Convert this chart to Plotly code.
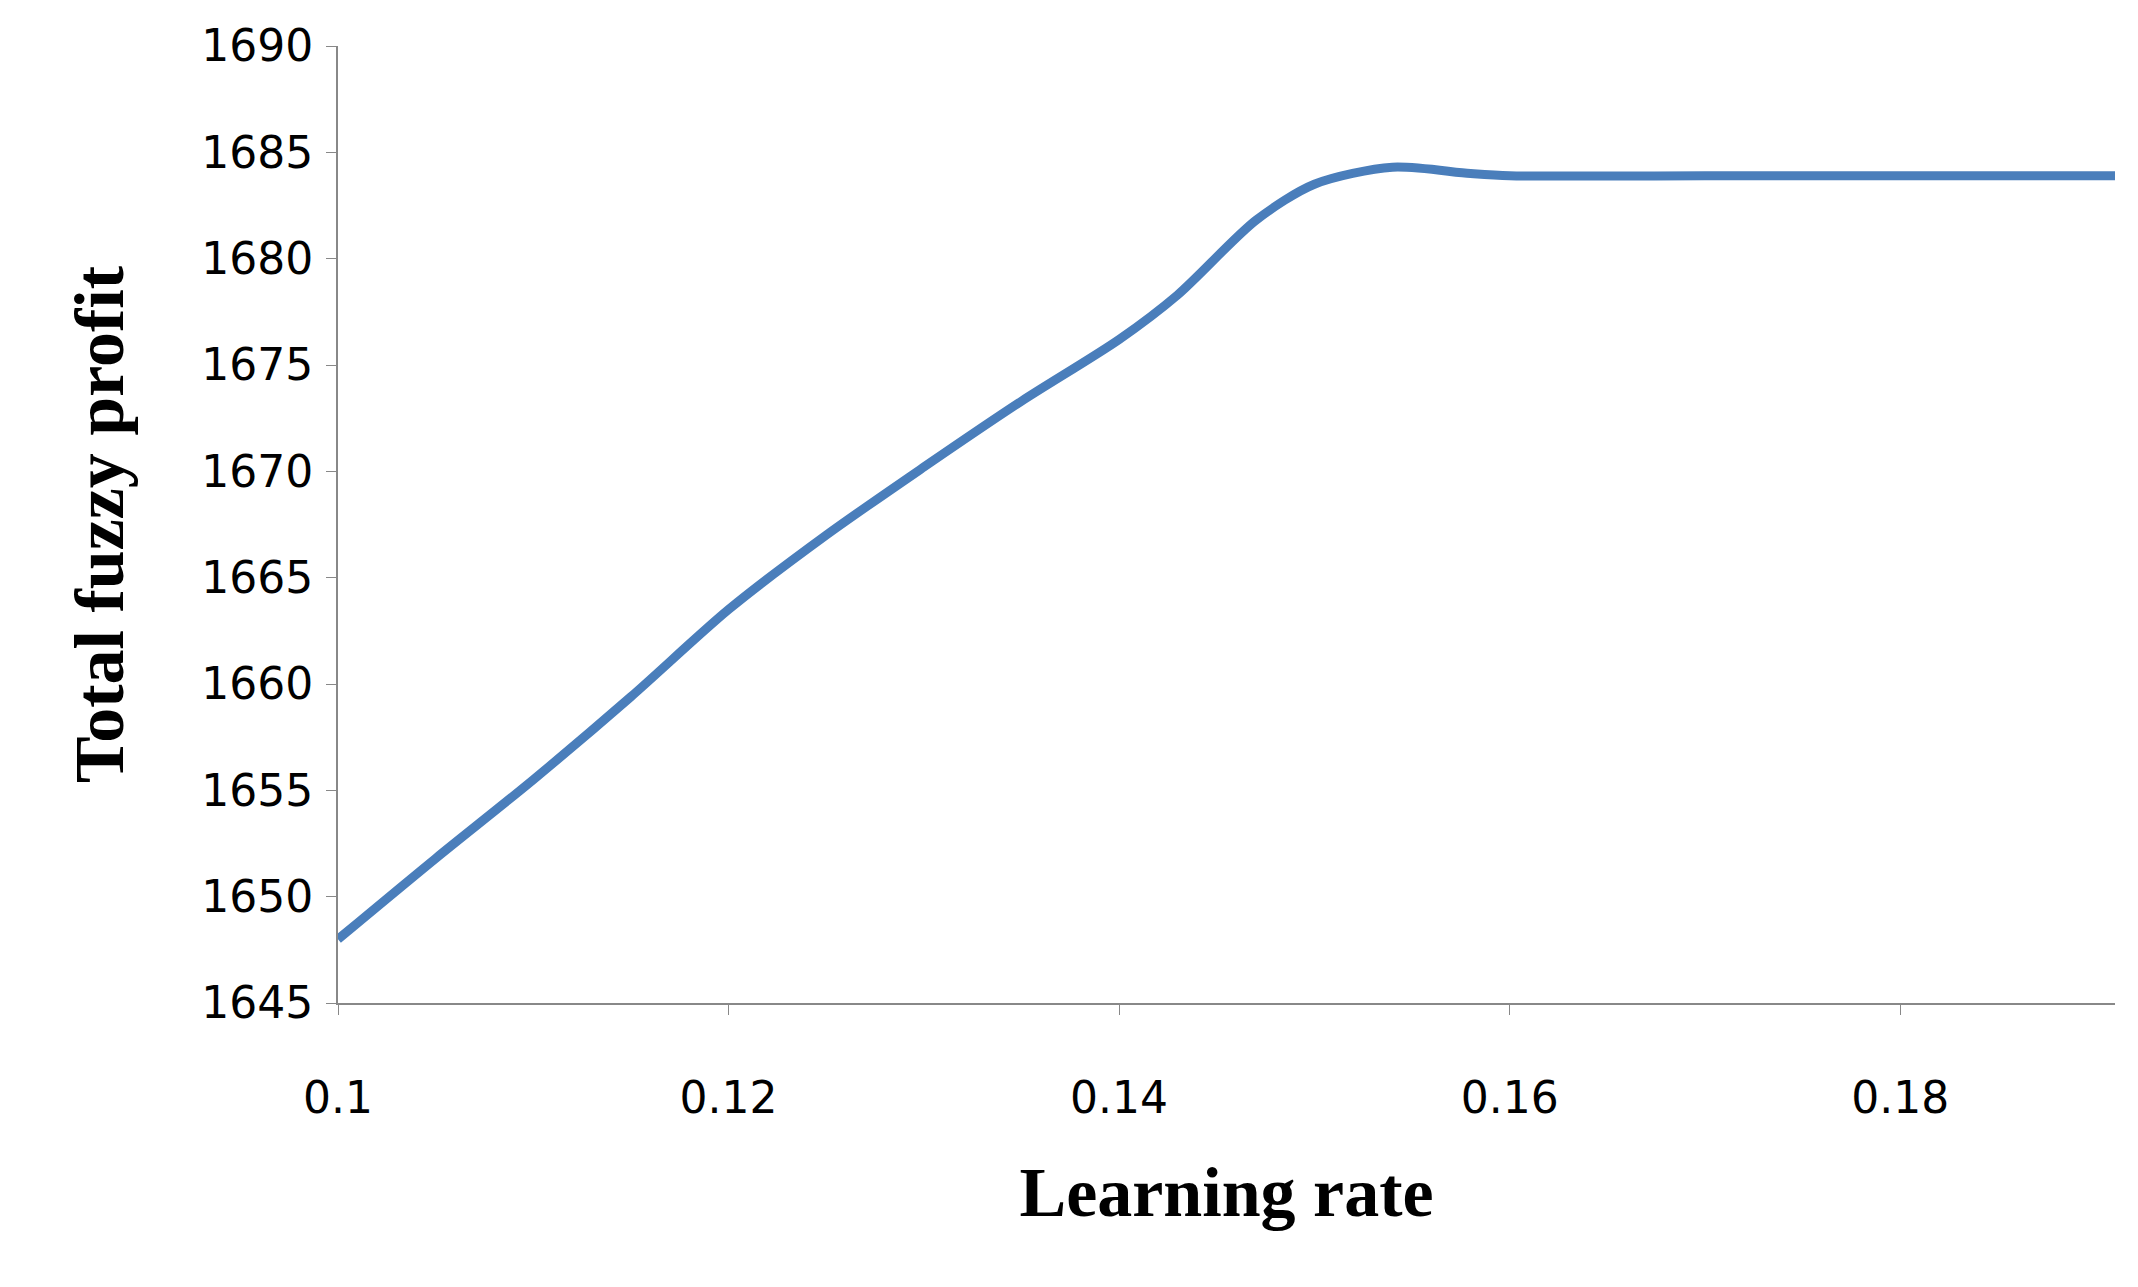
import plotly.graph_objects as go

learning_rate = [0.1, 0.105, 0.11, 0.115, 0.12, 0.125, 0.13, 0.135, 0.14, 0.143, 0.147, 0.15, 0.154, 0.158, 0.16, 0.17, 0.18, 0.191]
profit = [1648.0, 1651.8, 1655.5, 1659.4, 1663.5, 1667.0, 1670.2, 1673.3, 1676.2, 1678.3, 1681.8, 1683.5, 1684.3, 1684.0, 1683.9, 1683.9, 1683.9, 1683.9]
x_ticks = [0.1, 0.12, 0.14, 0.16, 0.18]
x_labels = ["0.1", "0.12", "0.14", "0.16", "0.18"]

fig = go.Figure(go.Scatter(x=learning_rate, y=profit, mode="lines",
                           line=dict(color="#4a7ebb", width=9, shape="spline", smoothing=0.8)))
fig.update_layout(
    width=2138, height=1287, plot_bgcolor="white", paper_bgcolor="white",
    margin=dict(l=330, r=31, t=38, b=292), showlegend=False,
    font=dict(family="DejaVu Sans", size=44, color="black"),
)
fig.update_xaxes(range=[0.1, 0.191], tickvals=x_ticks, ticktext=x_labels,
                 showline=True, linecolor="#888", linewidth=2, ticks="outside",
                 ticklen=10, tickcolor="#888", showgrid=False, zeroline=False,
                 ticklabelstandoff=45,
                 title=dict(text="<b>Learning rate</b>", font=dict(family="Liberation Serif", size=70), standoff=45))
fig.update_yaxes(range=[1645, 1690], dtick=5, showline=True, linecolor="#888", linewidth=2,
                 ticks="outside", ticklen=10, tickcolor="#888", showgrid=False, zeroline=False,
                 ticklabelstandoff=4,
                 title=dict(text="<b>Total fuzzy profit</b>", font=dict(family="Liberation Serif", size=70), standoff=55))
fig.write_html("out.html")
